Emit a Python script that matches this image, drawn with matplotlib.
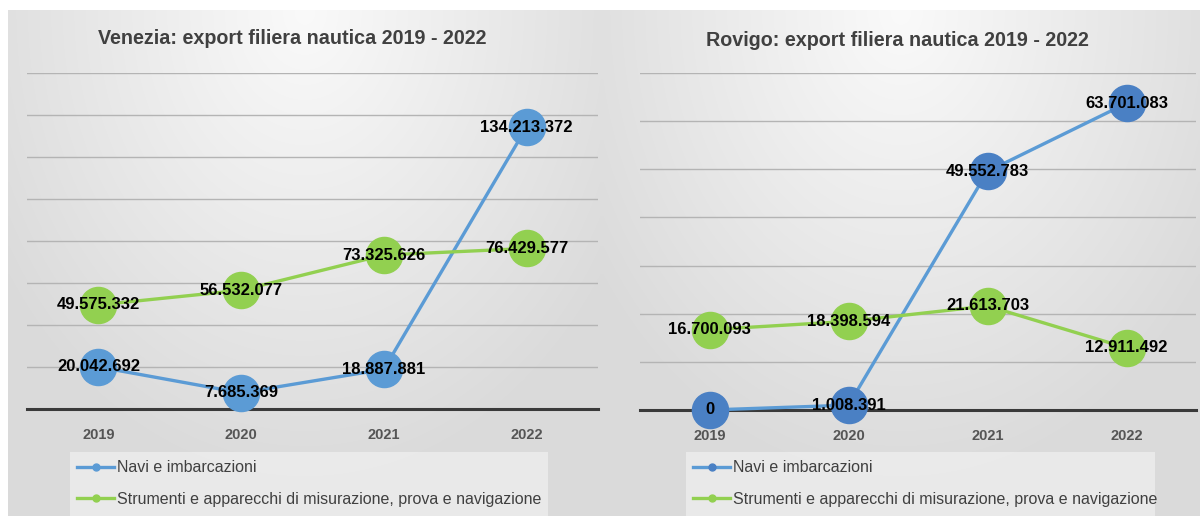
import numpy as np
import matplotlib
matplotlib.use("Agg")
import matplotlib.pyplot as plt
from matplotlib.lines import Line2D
from matplotlib.patches import Rectangle

# data
years = ["2019", "2020", "2021", "2022"]
navi_ve = [20042692, 7685369, 18887881, 134213372]
strum_ve = [49575332, 56532077, 73325626, 76429577]
navi_ro = [0, 1008391, 49552783, 63701083]
strum_ro = [16700093, 18398594, 21613703, 12911492]
titles = ["Venezia: export filiera nautica 2019 - 2022",
          "Rovigo: export filiera nautica 2019 - 2022"]
legend_labels = ["Navi e imbarcazioni",
                 "Strumenti e apparecchi di misurazione, prova e navigazione"]

W, H = 1200, 516
BLUE = "#5b9bd5"
BLUE_DARK = "#4a80c4"
GREEN = "#92d050"
FONT = "Liberation Sans"

fig = plt.figure(figsize=(W / 100, H / 100), dpi=100)
fig.patch.set_facecolor("white")


def fmt(v):
    return f"{v:,}".replace(",", ".")


def px_axes(x0, x1, y0, y1):
    # y0 = top pixel, y1 = bottom pixel
    return fig.add_axes([x0 / W, 1 - y1 / H, (x1 - x0) / W, (y1 - y0) / H])


# --- gradient panels in background ---
bg = fig.add_axes([0, 0, 1, 1], zorder=-10)
bg.set_xlim(0, W)
bg.set_ylim(H, 0)
bg.axis("off")
for (x0, x1) in [(8, 602), (602, 1200)]:
    y0, y1 = 10, H
    xs = np.linspace(-1, 1, 200)
    ys = np.linspace(0, 1, 200)
    X, Y = np.meshgrid(xs, ys)
    d = np.clip(np.sqrt((X * 0.8) ** 2 + (Y * 1.05) ** 2), 0, 1)
    val = 0.98 - 0.125 * d
    img = np.dstack([val, val, val])
    bg.imshow(img, extent=(x0, x1, y1, y0), aspect="auto", interpolation="bilinear")


def panel(ax, navi, strum, ymax, step, marker_navi, title, title_xy, leg_box):
    x = np.arange(len(years))
    ax.set_facecolor("none")
    ax.set_xlim(-0.5, len(years) - 0.5)
    ax.set_ylim(0, ymax)
    ax.set_yticks(np.arange(0, ymax + 1, step))
    ax.yaxis.grid(True, color="#b4b4b4", lw=1)
    ax.set_axisbelow(True)
    ax.tick_params(axis="y", left=False, labelleft=False)
    ax.tick_params(axis="x", bottom=False, pad=10)
    ax.set_xticks(x)
    ax.set_xticklabels(years, fontfamily=FONT, fontweight="bold",
                       fontsize=10.5, color="#555555")
    for s in ["left", "right", "top"]:
        ax.spines[s].set_visible(False)
    ax.spines["bottom"].set_color("#3a3a3a")
    ax.spines["bottom"].set_linewidth(2.2)
    ax.spines["bottom"].set_zorder(2)

    ax.plot(x, navi, color=BLUE, lw=2.4, marker="o", ms=26,
            mfc=marker_navi, mec=marker_navi, clip_on=False, zorder=3)
    ax.plot(x, strum, color=GREEN, lw=2.4, marker="o", ms=26,
            mfc=GREEN, mec=GREEN, clip_on=False, zorder=3)
    for xi, v in zip(x, navi):
        ax.text(xi, v, fmt(v), ha="center", va="center", fontfamily=FONT,
                fontweight="bold", fontsize=12, color="black", zorder=5)
    for xi, v in zip(x, strum):
        ax.text(xi, v, fmt(v), ha="center", va="center", fontfamily=FONT,
                fontweight="bold", fontsize=12, color="black", zorder=5)

    fig.text(title_xy[0] / W, 1 - title_xy[1] / H, title, ha="center",
             va="center", fontfamily=FONT, fontweight="bold", fontsize=14.2,
             color="#404040")

    # legend area: light box running off the bottom edge, as in the screenshot
    lx0, lx1, ly0 = leg_box
    bg.add_patch(Rectangle((lx0, ly0), lx1 - lx0, H - ly0 + 2,
                           facecolor="#eeeeee", edgecolor="none", alpha=0.8))

    handles = [Line2D([], [], color=BLUE, lw=2.4, marker="o", ms=5,
                      mfc=marker_navi, mec=marker_navi),
               Line2D([], [], color=GREEN, lw=2.4, marker="o", ms=5,
                      mfc=GREEN, mec=GREEN)]
    leg = fig.legend(handles, legend_labels, loc="upper left",
                     bbox_to_anchor=(lx0 / W, 1 - (ly0 + 1) / H, (lx1 - lx0) / W, 0),
                     mode="expand", frameon=False,
                     borderaxespad=0, borderpad=0.45, handlelength=2.3,
                     handletextpad=0.2, labelspacing=1.05,
                     prop={"family": FONT, "size": 11.5})
    for t in leg.get_texts():
        t.set_color("#404040")


ax1 = px_axes(27, 598, 73, 409)
panel(ax1, navi_ve, strum_ve, 160e6, 20e6, BLUE, titles[0], (292, 38), (70, 548, 452))

ax2 = px_axes(640, 1196, 73, 410)
panel(ax2, navi_ro, strum_ro, 70e6, 10e6, BLUE_DARK, titles[1], (897, 40), (686, 1155, 452))

fig.savefig("out.png", dpi=100)
